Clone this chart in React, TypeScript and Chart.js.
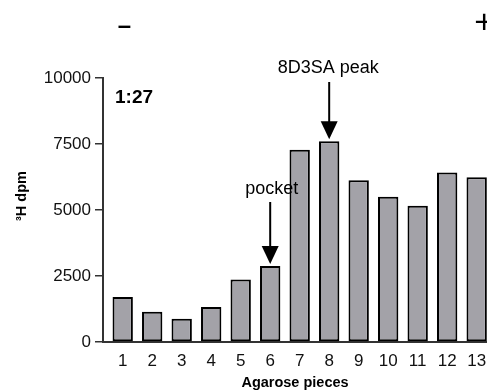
import React, { useEffect, useRef } from 'react';
import { Chart, registerables } from 'chart.js';

Chart.register(...registerables);

const FONT = '"Liberation Sans", Arial, sans-serif';

const pieces = [1, 2, 3, 4, 5, 6, 7, 8, 9, 10, 11, 12, 13];
const dpm = [1700, 1150, 880, 1330, 2370, 2880, 7280, 7600, 6130, 5500, 5160, 6420, 6240];
const yTicks = [0, 2500, 5000, 7500, 10000];
const yTitle = '³H dpm';
const xTitle = 'Agarose pieces';
const panelLabel = '1:27';
const peakLabel = '8D3SA peak';
const peakPiece = 8;
const pocketLabel = 'pocket';
const pocketPiece = 6;
const minusLabel = '–';
const plusLabel = '+';

const annotations = {
  id: 'annotations',
  afterDraw(chart: any) {
    const { ctx, scales } = chart;
    const x = scales.x;
    const y = scales.y;
    ctx.save();
    ctx.fillStyle = '#000';
    ctx.strokeStyle = '#000';

    // y-axis title
    ctx.save();
    ctx.translate(22, 196);
    ctx.rotate(-Math.PI / 2);
    ctx.font = `bold 14.5px ${FONT}`;
    ctx.textAlign = 'center';
    ctx.textBaseline = 'middle';
    ctx.fillText(yTitle, 0, 0);
    ctx.restore();

    // minus / plus
    ctx.textAlign = 'center';
    ctx.textBaseline = 'alphabetic';
    ctx.font = `bold 24px ${FONT}`;
    ctx.fillText(minusLabel, 124.5, 32.5);
    ctx.font = `34px ${FONT}`;
    ctx.fillText(plusLabel, 484.3, 32.5);

    // panel label
    ctx.textAlign = 'left';
    ctx.font = `bold 19px ${FONT}`;
    ctx.fillText(panelLabel, 115, 103);

    const arrow = (piece: number, value: number, topY: number) => {
      const px = x.getPixelForValue(piece);
      const tip = y.getPixelForValue(value) - 2;
      const headH = 18;
      const headW = 17;
      ctx.lineWidth = 2;
      ctx.beginPath();
      ctx.moveTo(px, topY);
      ctx.lineTo(px, tip - headH + 1);
      ctx.stroke();
      ctx.beginPath();
      ctx.moveTo(px - headW / 2, tip - headH);
      ctx.lineTo(px + headW / 2, tip - headH);
      ctx.lineTo(px, tip);
      ctx.closePath();
      ctx.fill();
      return px;
    };

    ctx.font = `18px ${FONT}`;
    ctx.textAlign = 'center';
    const p8 = arrow(peakPiece, dpm[peakPiece - 1], 82);
    ctx.fillText(peakLabel, p8 - 1, 73);
    const p6 = arrow(pocketPiece, dpm[pocketPiece - 1], 202);
    ctx.fillText(pocketLabel, p6 + 1.5, 194);

    ctx.restore();
  },
};

export default function App() {
  const canvasRef = useRef<HTMLCanvasElement | null>(null);

  useEffect(() => {
    const canvas = canvasRef.current;
    if (!canvas) return;
    const chart = new Chart(canvas, {
      type: 'bar',
      data: {
        datasets: [
          {
            data: pieces.map((p, i) => ({ x: p, y: dpm[i] })),
            backgroundColor: '#a3a2a8',
            borderColor: '#000',
            borderWidth: 2,
            borderSkipped: false,
            barPercentage: 0.69,
            categoryPercentage: 1,
          },
        ],
      },
      options: {
        responsive: false,
        animation: false,
        devicePixelRatio: 1,
        layout: { padding: { top: 78, right: 0, bottom: 0, left: 0 }, autoPadding: false },
        plugins: { legend: { display: false }, tooltip: { enabled: false } },
        scales: {
          x: {
            type: 'linear',
            offset: false,
            bounds: 'data',
            min: 0.332,
            max: 13.35,
            afterBuildTicks: (scale: any) => {
              scale.ticks = pieces.map((v) => ({ value: v }));
            },
            afterFit: (scale: any) => {
              scale.height = 50;
              scale.paddingLeft = 0;
              scale.paddingRight = 0;
            },
            grid: { display: true, offset: false, drawOnChartArea: false, drawTicks: false },
            border: { display: true, color: '#333', width: 2 },
            ticks: {
              padding: 9,
              color: '#111',
              font: { family: FONT, size: 17 },
              maxRotation: 0,
              autoSkip: false,
              callback: (v: any) => String(v),
            },
            title: {
              display: true,
              text: xTitle,
              color: '#000',
              font: { family: FONT, size: 14.5, weight: 'bold' },
              padding: { top: 0, bottom: 0 },
            },
          },
          y: {
            min: 0,
            max: 10000,
            afterBuildTicks: (scale: any) => {
              scale.ticks = yTicks.map((v) => ({ value: v }));
            },
            afterFit: (scale: any) => {
              scale.width = 103;
              scale.paddingTop = 0;
              scale.paddingBottom = 0;
            },
            grid: {
              drawOnChartArea: false,
              drawTicks: true,
              tickLength: 8,
              color: '#333',
              lineWidth: 1.5,
            },
            border: { display: true, color: '#333', width: 2 },
            ticks: {
              padding: 4,
              color: '#111',
              font: { family: FONT, size: 17 },
              callback: (v: any) => String(v),
            },
          },
        },
      },
      plugins: [annotations],
    } as any);
    return () => chart.destroy();
  }, []);

  return (
    <div style={{ position: 'absolute', left: 0, top: 0, width: 487, height: 392, background: '#fff' }}>
      <canvas ref={canvasRef} width={487} height={392} style={{ display: 'block', width: 487, height: 392 }} />
    </div>
  );
}
